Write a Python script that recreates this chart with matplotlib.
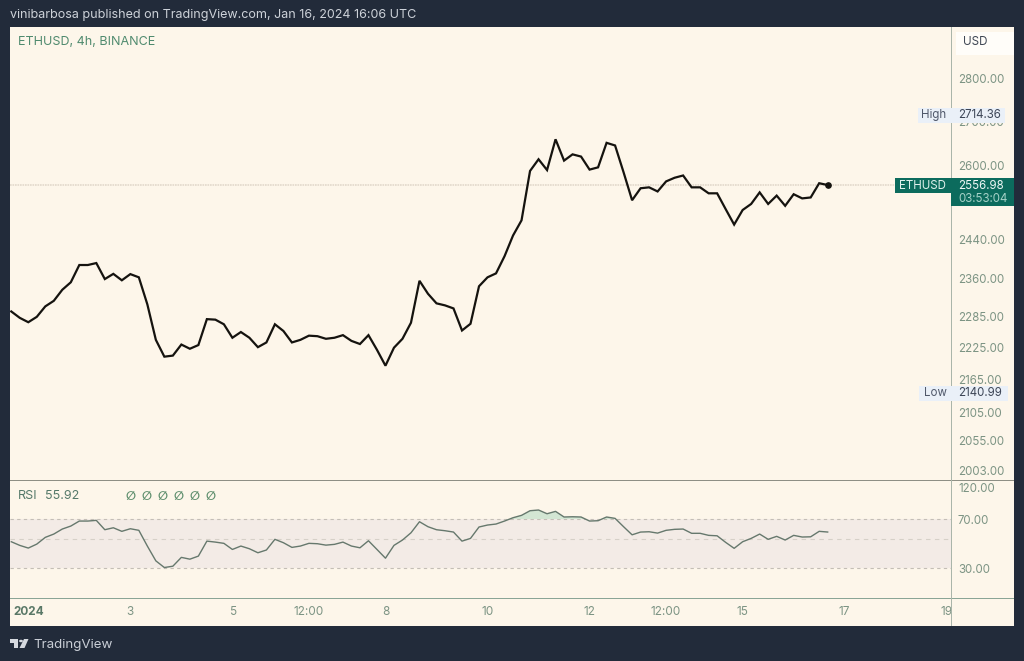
import matplotlib
matplotlib.use("Agg")
import matplotlib.pyplot as plt
import pandas as pd
from matplotlib.patches import Rectangle, Polygon, Circle
from matplotlib.transforms import blended_transform_factory

W, H = 1024, 661

# 4h closes
price = [2295, 2282.5, 2274, 2284.5, 2305, 2316, 2338, 2353, 2388, 2388, 2392, 2359.5, 2370,
         2357, 2369.5, 2363, 2309, 2240, 2208, 2210, 2231, 2223, 2230, 2280, 2279, 2270, 2244,
         2255, 2244, 2226, 2235, 2270, 2257, 2235, 2240, 2248, 2247, 2242, 2244,
         2249, 2238, 2232, 2249, 2221, 2191, 2225, 2242, 2273, 2356, 2330, 2311, 2307, 2301,
         2258, 2271, 2345, 2363, 2371, 2406, 2449, 2481, 2588, 2614, 2590, 2659, 2611, 2625,
         2620, 2591, 2596, 2651, 2645, 2585, 2524, 2550, 2552, 2543, 2565, 2573,
         2578, 2552, 2552, 2539, 2539, 2505, 2472, 2503, 2516, 2541, 2516, 2534, 2512, 2537,
         2528, 2530, 2561, 2556.98]

rsi = [47.3, 44.4, 42.4, 45.4, 51.0, 54.0, 58.9, 62.0, 67.6, 67.6, 68.4, 58.2, 60.2, 56.6, 59.2,
       57.6, 43.9, 34.0, 30.3, 31.0, 36.1, 35.0, 36.9, 47.8, 47.0, 46.0, 41.4, 43.9, 41.9, 39.1,
       41.0, 49.3, 46.5, 42.9, 43.9, 46.0, 45.7, 44.6, 45.2,
       47.0, 43.9, 42.6, 48.1, 41.4, 35.6, 44.4, 48.7, 55.2, 66.8, 61.3, 58.2, 57.2, 55.9, 47.8,
       50.1, 61.0, 63.1, 64.2, 67.6, 71.6, 74.6, 80.8, 81.8, 76.7, 79.9, 72.5, 72.8, 72.5, 67.6,
       68.0, 72.5, 70.8, 61.3, 53.3, 55.9, 56.2, 54.9, 57.6, 58.6,
       58.9, 54.7, 54.7, 52.8, 52.4, 46.8, 42.2, 47.3, 50.1, 54.0, 49.3, 51.9, 48.7, 52.8, 51.3,
       51.5, 56.6, 55.92]

price_ticks = [2800, 2700, 2600, 2440, 2360, 2285, 2225, 2165, 2105, 2055, 2003]
rsi_ticks = [120, 70, 30]
time_ticks = ["2024-01-01", "2024-01-03", "2024-01-05", "2024-01-06 12:00", "2024-01-08",
              "2024-01-10", "2024-01-12", "2024-01-13 12:00", "2024-01-15", "2024-01-17",
              "2024-01-19"]
time_labels = ["2024", "3", "5", "12:00", "8", "10", "12", "12:00", "15", "17", "19"]
high, low = 2714.36, 2140.99

BG = "#222b3a"
PANEL = "#fdf6ea"
GREEN = "#4f8a6e"
AXIS_TXT = "#7d9484"
TAG = "#eaf0f8"
FS = 8.3

plt.rcParams["font.family"] = ["Inter", "DejaVu Sans"]
times = pd.date_range("2023-12-31 16:00", periods=len(price), freq="4h")
xlim = (times[0] - pd.Timedelta(minutes=36), times[0] + pd.Timedelta(hours=442))


def fx(x):
    return x / W


def fy(y):
    return 1 - y / H


def box(x0, y0, x1, y1):
    return [fx(x0), fy(y1), fx(x1 - x0), fy(y0) - fy(y1)]


def put(x, y, s, **kw):
    kw.setdefault("va", "center")
    kw.setdefault("fontsize", FS)
    return fig.text(fx(x), fy(y), s, **kw)


def rect(x0, y0, x1, y1, color, zorder=1):
    fig.add_artist(Rectangle((fx(x0), fy(y1)), fx(x1 - x0), fy(y0) - fy(y1),
                             transform=fig.transFigure, color=color, lw=0, zorder=zorder))


fig = plt.figure(figsize=(W / 100, H / 100), dpi=100, facecolor=BG)
rect(10, 27, 1014, 626, PANEL, zorder=0)

# price pane
ax = fig.add_axes(box(10, 27, 951, 480))
ax.patch.set_alpha(0)
ax.set_yscale("log")
ax.plot(times, price, color="#15130f", lw=1.6, solid_joinstyle="miter", zorder=3)
ax.plot(times[-1], price[-1], "o", color="#15130f", ms=3.8, zorder=4)
ax.axhline(price[-1], color="#e2d9cb", lw=1.2, ls=(0, (1, 0.5)), zorder=1)
ax.set_xlim(xlim)
ax.set_ylim(1987, 2927)
ax.set_yticks(price_ticks)
ax.set_yticks([], minor=True)
ax.set_yticklabels([f"{t:.2f}" for t in price_ticks])
ax.yaxis.tick_right()
ax.tick_params(axis="y", which="both", length=0, pad=5, labelcolor=AXIS_TXT, labelsize=FS)
ax.set_xticks([])
for s in ax.spines.values():
    s.set_visible(False)

# rsi pane
ax2 = fig.add_axes(box(10, 481, 951, 598))
ax2.patch.set_alpha(0)
ax2.set_yscale("log")
ax2.axhspan(30, 70, color="#f3ebe6", lw=0, zorder=1)
ax2.axhline(70, color="#c4beb6", lw=0.8, ls=(0, (3, 3)), zorder=2)
ax2.axhline(50, color="#d6d0c8", lw=0.8, ls=(0, (4, 4)), zorder=2)
ax2.axhline(30, color="#c4beb6", lw=0.8, ls=(0, (3, 3)), zorder=2)
ax2.fill_between(times, 70, rsi, where=[r > 70 for r in rsi], interpolate=True,
                 color="#d3e6d3", lw=0, zorder=2)
ax2.plot(times, rsi, color="#66786d", lw=1.0, zorder=3)
ax2.set_xlim(xlim)
ax2.set_ylim(17.9, 135)
ax2.set_yticks(rsi_ticks)
ax2.set_yticks([], minor=True)
ax2.set_yticklabels([f"{t:.2f}" for t in rsi_ticks])
ax2.yaxis.tick_right()
ax2.tick_params(axis="y", which="both", length=0, pad=5, labelcolor=AXIS_TXT, labelsize=FS)
ax2.set_xticks([])
for s in ax2.spines.values():
    s.set_visible(False)

# time strip, labels clipped at the scale edge like the 19 in the original
ax3 = fig.add_axes(box(10, 598, 951, 626))
ax3.patch.set_alpha(0)
ax3.set_xlim(xlim)
ax3.set_ylim(0, 1)
ax3.set_xticks([])
ax3.set_yticks([])
for s in ax3.spines.values():
    s.set_visible(False)
for t, lab in zip(time_ticks, time_labels):
    bold = lab == "2024"
    ax3.text(pd.Timestamp(t), 0.5, lab, ha="center", va="center", fontsize=8.5, clip_on=True,
             color="#5a7867" if bold else AXIS_TXT, fontweight="bold" if bold else "normal")

# pane borders sit under the axes, tags sit over them
for a in (ax, ax2, ax3):
    a.set_zorder(3)
rect(10, 480, 1014, 481, "#8e8f85", zorder=2)
rect(10, 598, 1014, 599, "#8aa596", zorder=2)
rect(950.5, 27, 951.5, 626, "#aab5aa", zorder=2)

# high / low tags on the scale, placed on the price scale itself
tag = blended_transform_factory(fig.transFigure, ax.transData)
rect(918, 108, 1005, 123, TAG, zorder=5)
rect(919, 386, 1008, 401, TAG, zorder=5)
fig.text(fx(921), high, "High", transform=tag, color="#50586a", fontsize=FS, va="center", zorder=6)
fig.text(fx(958), high, f"{high:.2f}", transform=tag, color="#3d4657", fontsize=FS, va="center", zorder=6)
fig.text(fx(924), low, "Low", transform=tag, color="#50586a", fontsize=FS, va="center", zorder=6)
fig.text(fx(958), low, f"{low:.2f}", transform=tag, color="#3d4657", fontsize=FS, va="center", zorder=6)

# header and legends
put(10, 15, "vinibarbosa published on TradingView.com, Jan 16, 2024 16:06 UTC",
    color="#cdd2d9", fontsize=9.05)
put(18, 42, "ETHUSD, 4h, BINANCE", color=GREEN, fontsize=9)
put(18, 496, "RSI", color="#55796a", fontsize=9)
put(45, 496, "55.92", color="#55796a", fontsize=9)
for x in (131, 147, 163, 179, 195, 211):
    put(x, 497, "\u2205", color="#5f8f6e", fontsize=8.5, ha="center", family="DejaVu Sans",
        fontweight="bold")

# USD box
rect(956, 32, 1014, 55, "#fffdf9", zorder=5)
put(963, 42, "USD", color="#3f4754", fontsize=8.4, zorder=6)

# last price tag
rect(895, 178, 951, 193, "#0c6b5d", zorder=5)
rect(951, 178, 1014, 206, "#0c6b5d", zorder=5)
put(899, 186, "ETHUSD", color="#dff0ec", fontsize=FS, zorder=6)
put(958, 186, f"{price[-1]:.2f}", color="#eef7f5", fontsize=FS, zorder=6)
put(958, 199, "03:53:04", color="#a6d2c8", fontsize=FS, zorder=6)

# footer logo and name
LOGO = "#d5d9df"
fig.add_artist(Polygon([(fx(10), fy(639)), (fx(18), fy(639)), (fx(18), fy(648)), (fx(14), fy(648)),
                        (fx(14), fy(643)), (fx(10), fy(643))],
                       transform=fig.transFigure, color=LOGO, lw=0))
fig.add_artist(Polygon([(fx(24), fy(639)), (fx(28.5), fy(639)), (fx(24.5), fy(648)), (fx(19.5), fy(648))],
                       transform=fig.transFigure, color=LOGO, lw=0))
fig.add_artist(Circle((fx(21), fy(641)), 0.0019, transform=fig.transFigure, color=LOGO, lw=0))
put(33, 645, "TradingView", color="#c9ced6", fontsize=9.6)

fig.savefig("out.png", dpi=100, facecolor=BG)
